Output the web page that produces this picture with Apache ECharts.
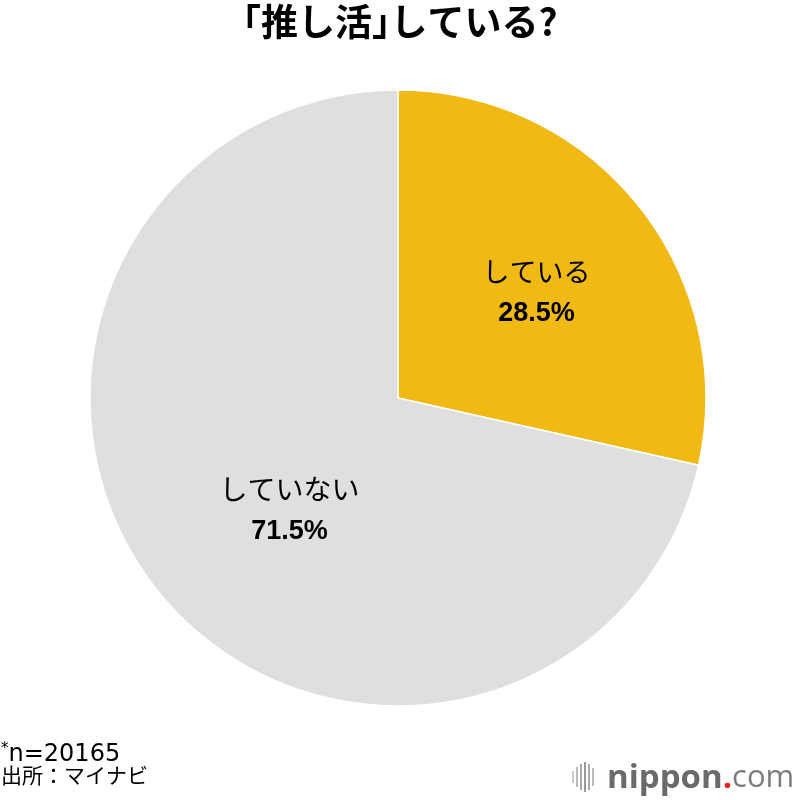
<!DOCTYPE html>
<html><head><meta charset="utf-8">
<script src="https://cdn.jsdelivr.net/npm/echarts@6/dist/echarts.min.js"></script>
<style>html,body{margin:0;padding:0;background:#fff}#c{width:800px;height:800px}</style>
</head><body><div id="c"></div>
<script>
const categories = ["している", "していない"];
const values = [28.5, 71.5];
const colors = ["#F0B914", "#DFDFDF"];
const titleText = "｢推し活｣している?";
const noteText = "n=20165";
const sourceText = "出所：マイナビ";

const chart = echarts.init(document.getElementById('c'), null, {renderer: 'canvas'});
const jp = '"Noto Sans CJK JP", "Liberation Sans", sans-serif';
chart.setOption({
  backgroundColor: '#fff',
  animation: false,
  title: {
    text: titleText, left: 'center', top: -2,
    textStyle: {fontFamily: jp, fontWeight: 'bold', fontSize: 37, color: '#000'}
  },
  series: [{
    type: 'pie',
    center: [398, 398],
    radius: [0, 308],
    startAngle: 90,
    clockwise: true,
    itemStyle: {borderColor: '#fff', borderWidth: 1.5},
    label: {
      position: 'inside',
      formatter: p => '{a|' + p.name + '}\n{b|' + p.value.toFixed(1) + '%}',
      rich: {
        a: {fontFamily: jp, fontSize: 27, color: '#000', lineHeight: 44},
        b: {fontFamily: '"Liberation Sans", Arial, sans-serif', fontWeight: 'bold', fontSize: 27, color: '#000', lineHeight: 40}
      }
    },
    labelLine: {show: false},
    emphasis: {disabled: true},
    data: categories.map((c, i) => ({
      name: c, value: values[i], itemStyle: {color: colors[i]},
      label: {offset: i === 0 ? [16, -8] : [14, 13], rich: i === 1 ? {a: {fontFamily: jp, fontSize: 28, color: '#000', lineHeight: 44}} : undefined}
    }))
  }],
  graphic: [
    {type: 'text', left: 1, top: 742, style: {text: '{s|*}{n|' + noteText + '}', rich: {
      s: {fontFamily: '"DejaVu Sans", sans-serif', fontSize: 15, verticalAlign: 'top', padding: [0, 0, 10, 0]},
      n: {fontFamily: '"DejaVu Sans", sans-serif', fontSize: 24, fill: '#000'}
    }, fill: '#000'}},
    {type: 'text', left: 1, top: 765, style: {text: sourceText, fontFamily: jp, fontSize: 21, fill: '#000'}},
    {type: 'group', left: 572, top: 762, children: [
      {type: 'rect', shape: {x: 0, y: 9, width: 2, height: 12}, style: {fill: '#ccc'}},
      {type: 'rect', shape: {x: 4, y: 5, width: 2, height: 20}, style: {fill: '#bbb'}},
      {type: 'rect', shape: {x: 8, y: 2, width: 2, height: 26}, style: {fill: '#aaa'}},
      {type: 'rect', shape: {x: 12, y: 0, width: 2, height: 30}, style: {fill: '#999'}},
      {type: 'rect', shape: {x: 16, y: 2, width: 2, height: 26}, style: {fill: '#aaa'}},
      {type: 'rect', shape: {x: 20, y: 6, width: 2, height: 18}, style: {fill: '#bbb'}}
    ]},
    {type: 'text', left: 607, top: 762, style: {text: '{a|nippon}{b|.}{c|com}', rich: {
      a: {fontFamily: '"Open Sans", "DejaVu Sans", sans-serif', fontWeight: 'bold', fontSize: 33, fill: '#6a6a6a'},
      b: {fontFamily: '"Open Sans", sans-serif', fontWeight: 'bold', fontSize: 33, fill: '#e8221a'},
      c: {fontFamily: '"Open Sans", sans-serif', fontSize: 31, fill: '#7d7d7d'}
    }}}
  ]
});
</script></body></html>
